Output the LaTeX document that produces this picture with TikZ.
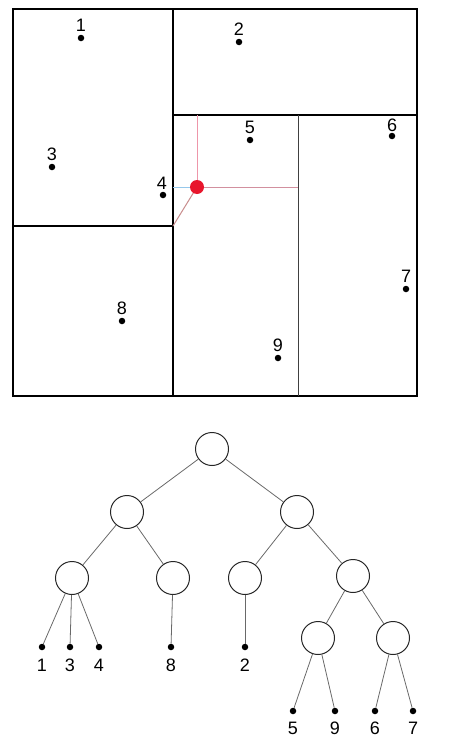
\documentclass[tikz,border=0pt]{standalone}
\usepackage{fontspec}
\setmainfont{Liberation Sans}
\usetikzlibrary{positioning}
\definecolor{qred}{RGB}{232,22,44}
\definecolor{qpink}{RGB}{238,150,170}
\definecolor{qblue}{RGB}{150,200,235}
\definecolor{qdiag}{RGB}{200,140,140}
\definecolor{edgegrey}{RGB}{105,105,105}
\tikzset{
  pt/.style     ={circle, fill=black, inner sep=0pt, minimum size=6.5pt},
  lbl/.style    ={font=\fontsize{18}{20}\selectfont, inner sep=1pt},
  cell/.style   ={draw=black, line width=2.8pt},
  thincell/.style={draw=black!75, line width=1pt},
  knode/.style  ={circle, draw=black!85, line width=1pt, minimum size=33pt, inner sep=0pt},
  kedge/.style  ={draw=edgegrey, line width=0.8pt},
  qline/.style  ={line width=1pt},
}

\begin{document}
\begin{tikzpicture}[x=1pt,y=-1pt]
\useasboundingbox (0,0) rectangle (458,744);

% cells
\draw[cell] (13,9) rectangle (417,396);
\draw[cell] (173,9) -- (173,396);
\draw[cell] (13,226) -- (173,226);
\draw[cell] (173,115) -- (417,115);
\draw[thincell] (298,115) -- (298,396);

% points
\node[pt] (p1) at (81,38) {};   \node[lbl, above=1.5pt of p1] {1};
\node[pt] (p2) at (239,42) {};  \node[lbl, above=1.5pt of p2] {2};
\node[pt] (p3) at (52,167) {};  \node[lbl, above=1.5pt of p3] {3};
\node[pt] (p4) at (163,195) {}; \node[lbl, above=0.5pt of p4, xshift=-1pt] {4};
\node[pt] (p5) at (250,140) {}; \node[lbl, above=1.5pt of p5] {5};
\node[pt] (p6) at (392,136) {}; \node[lbl, above=0pt of p6] {6};
\node[pt] (p7) at (406,289) {}; \node[lbl, above=1.5pt of p7] {7};
\node[pt] (p8) at (122,321) {}; \node[lbl, above=1.5pt of p8] {8};
\node[pt] (p9) at (278,358) {}; \node[lbl, above=1.5pt of p9] {9};

% query point and its distances
\coordinate (q) at (197,187);
\coordinate (qtop) at (197,115);
\coordinate (qleft) at (173,187);
\coordinate (qright) at (298,187);
\coordinate (qcorner) at (173,226);
\draw[qline, draw=qpink] (qtop) -- (q);
\draw[qline, draw=qpink!75!gray] (q) -- (qright);
\draw[qline, draw=qblue] (qleft) -- (q);
\draw[qline, draw=qdiag] (q) -- (qcorner);
\node[circle, fill=qred, inner sep=0pt, minimum size=14pt] (qdot) at (q) {};

% tree
\node[knode] (r)   at (212,449) {};
\node[knode] (a)   at (127,512) {};
\node[knode] (b)   at (297,512) {};
\node[knode] (aa)  at (72,578) {};
\node[knode] (ab)  at (173,578) {};
\node[knode] (ba)  at (245,578) {};
\node[knode] (bb)  at (353,576) {};
\node[knode] (bba) at (318,638) {};
\node[knode] (bbb) at (393,638) {};

\draw[kedge] (r) -- (a);  \draw[kedge] (r) -- (b);
\draw[kedge] (a) -- (aa); \draw[kedge] (a) -- (ab);
\draw[kedge] (b) -- (ba); \draw[kedge] (b) -- (bb);
\draw[kedge] (bb) -- (bba); \draw[kedge] (bb) -- (bbb);

% leaves
\foreach \nm/\x/\up in {1/42/aa, 3/70/aa, 4/99/aa, 8/171/ab, 2/245/ba}{
  \node[pt] (l\nm) at (\x,647) {};
  \node[lbl, below=7pt of l\nm] {\nm};
  \draw[kedge] (\up) -- (l\nm);
}
\foreach \nm/\x/\up in {5/293/bba, 9/335/bba, 6/375/bbb, 7/413/bbb}{
  \node[pt] (l\nm) at (\x,711) {};
  \node[lbl, below=6pt of l\nm] {\nm};
  \draw[kedge] (\up) -- (l\nm);
}
\end{tikzpicture}
\end{document}
